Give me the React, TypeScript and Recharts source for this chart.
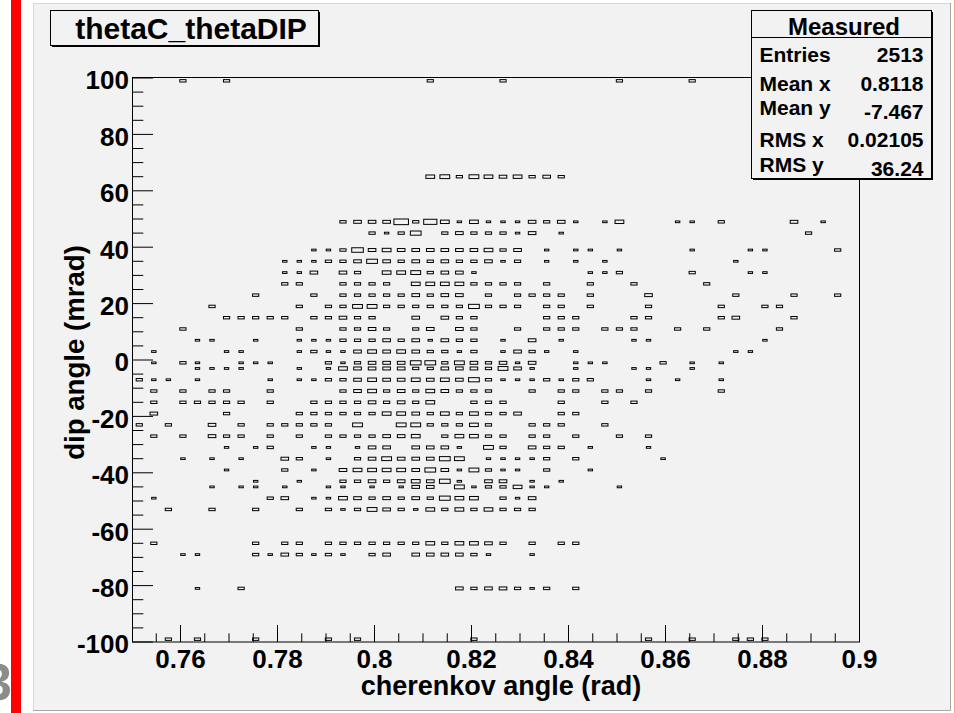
import React from 'react';
import { ScatterChart, Scatter, XAxis, YAxis } from 'recharts';

// ---- canvas geometry ----
const W = 955;
const H = 713;
const PLOT = { left: 132, top: 78, right: 859.5, bottom: 642 };
const FONT = "'Liberation Sans', Arial, Helvetica, sans-serif";

// ---- histogram binning ----
const X_MIN = 0.75;
const X_MAX = 0.9;
const X_BIN = 0.003;
const Y_MIN = -100;
const Y_MAX = 100;
const Y_BIN = 2;
const Z_MAX = 11;

// cherenkov angle bin centres (rad)
const thetaCBins = [
  0.7515, 0.7545, 0.7575, 0.7605, 0.7635, 0.7665, 0.7695, 0.7725, 0.7755, 0.7785,
  0.7815, 0.7845, 0.7875, 0.7905, 0.7935, 0.7965, 0.7995, 0.8025, 0.8055, 0.8085,
  0.8115, 0.8145, 0.8175, 0.8205, 0.8235, 0.8265, 0.8295, 0.8325, 0.8355, 0.8385,
  0.8415, 0.8445, 0.8475, 0.8505, 0.8535, 0.8565, 0.8595, 0.8625, 0.8655, 0.8685,
  0.8715, 0.8745, 0.8775, 0.8805, 0.8835, 0.8865, 0.8895, 0.8925, 0.8955, 0.8985,
];

// dip angle rows (mrad) that hold entries
const dipRows = [99, 65, 49, 45, 39, 35, 31, 27, 23, 19, 15, 11, 7, 3, -1, -3, -7, -11, -15, -19, -23, -27, -31, -35, -39, -43, -45, -49, -53, -65, -69, -81, -99];

// entries per cherenkov bin, one array per dip row
const dipP99 = [0,0,0,2,0,0,2,0,0,0, 0,0,0,0,0,0,0,0,0,0, 2,0,0,0,0,2,0,0,0,0, 0,0,0,2,0,0,0,0,2,0, 0,0,0,0,0,0,0,0,0,0];
const dipP65 = [0,0,0,0,0,0,0,0,0,0, 0,0,0,0,0,0,0,0,0,0, 4,5,2,5,4,3,4,2,3,2, 0,0,0,0,0,0,0,0,0,0, 0,0,0,0,0,0,0,0,0,0];
const dipP49 = [0,0,0,0,0,0,0,0,0,0, 0,0,0,0,2,3,3,3,11,2, 9,4,1,4,1,1,1,3,2,3, 1,0,1,4,0,0,0,1,1,0, 2,0,0,0,0,3,0,1,0,0];
const dipP45 = [0,0,0,0,0,0,0,0,0,0, 0,0,0,0,0,0,2,1,2,6, 0,2,3,2,2,2,1,3,0,1, 0,0,0,0,0,0,0,0,0,0, 0,0,0,0,0,0,2,0,0,0];
const dipP39 = [0,0,0,0,0,0,0,0,0,0, 0,0,1,1,2,7,3,4,3,3, 3,3,3,3,4,2,3,0,1,0, 1,1,0,1,0,0,0,0,1,0, 0,0,1,1,0,0,0,0,2,0];
const dipP35 = [0,0,0,0,0,0,0,0,0,0, 1,1,1,2,2,3,6,3,2,3, 2,3,2,2,3,1,2,0,1,0, 1,0,1,0,0,0,0,0,0,0, 0,1,0,0,0,0,0,0,0,0];
const dipP31 = [0,0,0,0,0,0,0,0,0,0, 1,1,3,0,3,2,0,4,4,5, 2,3,3,1,0,0,0,0,0,0, 0,1,1,2,0,0,0,0,2,0, 0,0,1,1,0,0,0,0,0,0];
const dipP27 = [0,0,0,0,0,0,0,0,0,0, 2,2,0,0,2,2,2,2,0,4, 4,4,4,2,2,2,2,0,2,0, 0,2,0,0,2,0,0,0,0,2, 0,0,0,0,0,0,0,0,0,0];
const dipP23 = [0,0,0,0,0,0,0,0,2,0, 0,0,2,0,2,2,2,2,2,3, 2,3,3,0,2,0,2,2,2,2, 0,2,0,0,0,3,0,0,0,0, 0,2,0,0,0,2,0,0,2,0];
const dipP19 = [0,0,0,0,0,2,0,0,0,0, 0,2,0,2,2,5,5,2,2,2, 2,2,2,6,2,2,2,0,2,2, 0,2,0,0,0,2,0,0,0,0, 2,0,0,2,2,0,0,0,0,0];
const dipP15 = [0,0,0,0,0,0,2,2,2,2, 2,0,2,2,3,2,2,0,0,3, 0,3,2,2,0,0,0,0,2,2, 2,0,0,0,2,2,0,0,0,0, 2,3,0,0,0,2,0,0,0,0];
const dipP11 = [0,0,0,2,0,0,0,0,0,0, 0,2,0,0,2,2,3,2,0,2, 3,0,3,2,0,0,2,0,2,2, 2,0,2,2,2,0,0,2,0,2, 0,0,0,0,2,0,0,0,0,0];
const dipP7  = [0,0,0,0,1,1,0,0,1,0, 0,1,1,1,2,2,2,3,2,3, 1,3,2,2,0,1,0,3,0,1, 0,0,0,0,1,1,0,0,0,0, 0,0,0,1,0,0,0,0,0,0];
const dipP3  = [0,1,0,0,0,0,1,1,0,0, 0,1,2,1,1,3,4,3,4,3, 2,2,1,2,0,1,3,2,1,0, 1,0,0,0,0,0,0,0,0,0, 0,1,1,0,0,0,0,0,0,0];
const dipM1  = [0,1,0,2,1,0,0,1,1,1, 0,0,0,2,1,2,3,3,3,6, 6,2,5,3,2,3,1,3,0,0, 1,1,1,0,0,0,2,0,1,0, 1,0,0,0,0,0,0,0,0,0];
const dipM3  = [0,0,0,0,1,1,1,1,0,0, 0,1,0,1,4,3,3,3,3,2, 2,3,3,3,2,5,3,1,0,0, 1,0,0,0,1,1,0,0,1,0, 0,0,0,0,0,0,0,0,0,0];
const dipM7  = [2,1,1,0,1,0,0,0,0,1, 0,1,1,2,2,3,4,3,3,4, 3,4,3,6,2,1,1,1,2,1, 2,2,0,0,0,1,0,1,0,0, 1,0,0,0,0,0,0,0,0,0];
const dipM11 = [0,2,0,2,0,2,2,0,0,2, 0,0,0,0,2,3,4,2,3,2, 4,3,2,2,2,0,0,2,0,2, 2,0,2,2,0,2,0,0,0,0, 2,0,0,0,0,0,0,0,0,0];
const dipM15 = [0,2,0,2,2,2,2,2,0,2, 0,0,2,2,2,2,3,2,3,2, 4,0,0,2,2,2,0,0,0,2, 0,0,2,0,2,0,0,0,0,0, 0,0,0,0,0,0,0,0,0,0];
const dipM19 = [0,3,0,0,0,0,2,0,0,0, 0,2,2,2,2,2,2,4,4,3, 2,4,2,4,2,2,3,0,0,2, 2,0,0,0,0,0,0,0,0,0, 0,0,0,0,0,0,0,0,0,0];
const dipM23 = [2,0,2,0,0,3,0,2,0,2, 2,2,2,2,0,5,0,0,5,5, 2,2,2,4,2,0,0,2,2,2, 0,0,2,0,0,0,0,0,0,0, 0,0,0,0,0,0,0,0,0,0];
const dipM27 = [0,2,0,2,0,3,2,2,0,2, 0,2,0,2,2,2,2,3,3,4, 0,2,4,4,2,2,0,2,2,0, 2,0,0,2,0,2,0,0,0,0, 0,0,0,0,0,0,0,0,0,0];
const dipM31 = [0,0,0,0,0,0,1,0,1,2, 0,0,1,1,0,1,3,3,0,3, 3,3,1,0,5,2,0,3,2,2, 0,1,0,0,0,1,0,0,0,0, 0,0,0,0,0,0,0,0,0,0];
const dipM35 = [0,0,0,1,0,1,0,1,0,0, 3,2,0,1,0,2,3,5,3,3, 3,6,5,0,1,1,1,1,2,0, 2,0,0,0,0,0,1,0,0,0, 0,0,0,0,0,0,0,0,0,0];
const dipM39 = [0,0,0,0,0,0,1,0,0,0, 2,0,1,0,3,4,4,4,4,3, 6,3,1,5,2,1,1,0,2,0, 0,1,0,0,0,0,0,0,0,0, 0,0,0,0,0,0,0,0,0,0];
const dipM43 = [0,0,0,0,0,0,0,0,1,0, 0,1,0,0,2,2,3,2,3,4, 3,6,1,0,3,3,0,1,0,1, 0,0,0,0,0,0,0,0,0,0, 0,0,0,0,0,0,0,0,0,0];
const dipM45 = [0,0,0,0,0,1,0,1,1,0, 1,0,0,1,1,0,1,0,1,3, 3,0,5,1,2,2,4,1,1,0, 0,0,0,1,0,0,0,0,0,0, 0,0,0,0,0,0,0,0,0,0];
const dipM49 = [0,1,0,0,0,0,0,0,0,2, 3,0,1,1,4,3,2,3,2,3, 2,6,4,4,0,2,1,3,0,0, 0,0,0,0,0,0,0,0,0,0, 0,0,0,0,0,0,0,0,0,0];
const dipM53 = [0,0,2,0,0,2,0,0,2,0, 0,2,0,2,1,2,5,3,2,1, 4,2,4,2,4,2,2,2,0,0, 0,0,0,0,0,0,0,0,0,0, 0,0,0,0,0,0,0,0,0,0];
const dipM65 = [0,2,0,0,0,0,0,0,2,0, 2,2,0,2,2,2,2,2,2,2, 4,2,4,4,3,2,0,2,0,2, 2,0,0,0,0,0,0,0,0,0, 0,0,0,0,0,0,0,0,0,0];
const dipM69 = [0,0,0,1,1,0,0,0,2,1, 3,2,1,2,1,0,2,3,0,3, 3,3,3,2,1,0,0,1,0,0, 0,0,0,0,0,0,0,0,0,0, 0,0,0,0,0,0,0,0,0,0];
const dipM81 = [0,0,0,0,1,0,0,2,0,0, 0,0,0,0,0,0,0,0,0,0, 0,0,3,2,3,3,2,1,2,0, 2,0,0,0,0,0,0,0,0,0, 0,0,0,0,0,0,0,0,0,0];
const dipM99 = [0,0,2,0,2,0,0,0,2,0, 0,0,0,2,0,2,0,0,0,0, 0,0,0,2,0,0,0,0,0,0, 0,0,0,0,0,2,0,0,2,0, 0,2,2,2,0,0,0,0,0,0];

const rowCounts = [
  dipP99, dipP65, dipP49, dipP45, dipP39, dipP35, dipP31, dipP27, dipP23, dipP19, dipP15,
  dipP11, dipP7, dipP3, dipM1, dipM3, dipM7, dipM11, dipM15, dipM19, dipM23, dipM27,
  dipM31, dipM35, dipM39, dipM43, dipM45, dipM49, dipM53, dipM65, dipM69, dipM81, dipM99,
];

// axis ticks
const xMajorTicks = [0.76, 0.78, 0.8, 0.82, 0.84, 0.86, 0.88, 0.9];
const xMinorTicks = [0.755, 0.765, 0.77, 0.775, 0.785, 0.79, 0.795, 0.805, 0.81, 0.815, 0.825, 0.83, 0.835, 0.845, 0.85, 0.855, 0.865, 0.87, 0.875, 0.885, 0.89, 0.895];
const yMajorTicks = [-100, -80, -60, -40, -20, 0, 20, 40, 60, 80, 100];
const yMinorTicks = [-95, -90, -85, -75, -70, -65, -55, -50, -45, -35, -30, -25, -15, -10, -5, 5, 10, 15, 25, 30, 35, 45, 50, 55, 65, 70, 75, 85, 90, 95];

// statistics panel
const statsTitle = 'Measured';
const statLabels = ['Entries', 'Mean x', 'Mean y', 'RMS x', 'RMS y'];
const statValues = ['2513', '0.8118', '-7.467', '0.02105', '36.24'];

const histTitle = 'thetaC_thetaDIP';
const xTitle = 'cherenkov angle (rad)';
const yTitle = 'dip angle (mrad)';

const points = dipRows.flatMap((dip, r) =>
  rowCounts[r]
    .map((c, i) => ({ x: thetaCBins[i], y: dip, z: c }))
    .filter((p) => p.z > 0)
);

const xTicks = [...xMajorTicks, ...xMinorTicks].sort((a, b) => a - b);
const yTicks = [...yMajorTicks, ...yMinorTicks].sort((a, b) => a - b);
const isMajor = (v: number, list: number[]) => list.some((m) => Math.abs(m - v) < 1e-9);

const BIN_W = ((PLOT.right - PLOT.left) * X_BIN) / (X_MAX - X_MIN);
const BIN_H = ((PLOT.bottom - PLOT.top) * Y_BIN) / (Y_MAX - Y_MIN);

// box area proportional to cell content
const renderBox = (p: any) => {
  const r = Math.sqrt(p.payload.z / Z_MAX);
  const w = BIN_W * r;
  const h = BIN_H * r;
  return (
    <rect x={p.cx - w / 2} y={p.cy - h / 2} width={w} height={h} fill="none" stroke="#000" strokeWidth={1} />
  );
};

const XTick = (props: any) => {
  const { x, y, payload } = props;
  const v = payload.value as number;
  const major = isMajor(v, xMajorTicks);
  return (
    <g>
      <line x1={x} x2={x} y1={y} y2={y - (major ? 17 : 8.7)} stroke="#000" strokeWidth={1} />
      {major && (
        <text x={x} y={y + 26} textAnchor="middle" fontSize={26} fontWeight="bold" fontFamily={FONT} fill="#000">
          {String(v)}
        </text>
      )}
    </g>
  );
};

const YTick = (props: any) => {
  const { x, y, payload } = props;
  const v = payload.value as number;
  const major = isMajor(v, yMajorTicks);
  return (
    <g>
      <line x1={x} x2={x + (major ? 21 : 11.3)} y1={y} y2={y} stroke="#000" strokeWidth={1} />
      {major && (
        <text x={x - 3} y={y + 11.3} textAnchor="end" fontSize={26} fontWeight="bold" fontFamily={FONT} fill="#000">
          {String(v)}
        </text>
      )}
    </g>
  );
};

const statLabelBase = [61.7, 90.7, 115, 147.3, 171.7];
const statValueBase = [61.7, 90.7, 119, 147.3, 175.7];

export default function App() {
  return (
    <div style={{ position: 'absolute', left: 0, top: 0, width: W, height: H, background: '#fff', overflow: 'hidden' }}>
      {/* canvas background */}
      <svg width={W} height={H} style={{ position: 'absolute', left: 0, top: 0 }}>
        <rect x={33} y={3} width={918} height={708} fill="#f2f2f2" />
        <line x1={33.5} y1={3} x2={33.5} y2={711} stroke="#d8d8d8" strokeWidth={1} />
        <line x1={33} y1={3.5} x2={951} y2={3.5} stroke="#d8d8d8" strokeWidth={1} />
        <line x1={950.5} y1={3} x2={950.5} y2={711} stroke="#a8a8a8" strokeWidth={1} />
        <line x1={33} y1={710.5} x2={951} y2={710.5} stroke="#a8a8a8" strokeWidth={1} />
        <rect x={954} y={0} width={1} height={H} fill="#f2a0a0" />
      </svg>

      <div style={{ position: 'absolute', left: 0, top: 0 }}>
        <ScatterChart
          width={W}
          height={H}
          margin={{ top: PLOT.top, right: W - PLOT.right, bottom: H - PLOT.bottom - 30, left: PLOT.left - 60 }}
        >
          <XAxis
            type="number"
            dataKey="x"
            domain={[X_MIN, X_MAX]}
            allowDataOverflow
            ticks={xTicks}
            interval={0}
            height={30}
            tickSize={0}
            tickMargin={0}
            tickLine={false}
            axisLine={false}
            tick={(p: any) => <XTick {...p} />}
          />
          <YAxis
            type="number"
            dataKey="y"
            domain={[Y_MIN, Y_MAX]}
            allowDataOverflow
            ticks={yTicks}
            interval={0}
            width={60}
            tickSize={0}
            tickMargin={0}
            tickLine={false}
            axisLine={false}
            tick={(p: any) => <YTick {...p} />}
          />
          <Scatter data={points} shape={renderBox} isAnimationActive={false} />
        </ScatterChart>
      </div>

      {/* frame, titles and panels */}
      <svg width={W} height={H} style={{ position: 'absolute', left: 0, top: 0, pointerEvents: 'none' }}>
        <rect
          x={PLOT.left + 0.5}
          y={PLOT.top - 0.5}
          width={PLOT.right - PLOT.left - 0.5}
          height={PLOT.bottom - PLOT.top + 0.5}
          fill="none"
          stroke="#000"
          strokeWidth={1}
        />

        {/* histogram title */}
        <rect x={52} y={12} width={268} height={35} fill="#000" />
        <rect x={50.5} y={10.5} width={268} height={35} fill="#f2f2f2" stroke="#000" strokeWidth={1} />
        <text x={191} y={39.3} textAnchor="middle" fontSize={30} fontWeight="bold" fontFamily={FONT} fill="#000">
          {histTitle}
        </text>

        {/* statistics */}
        <rect x={753} y={12} width={180} height={168} fill="#000" />
        <rect x={751.5} y={10.5} width={180} height={168} fill="#f2f2f2" stroke="#000" strokeWidth={1} />
        <line x1={751.5} y1={37.5} x2={931.5} y2={37.5} stroke="#000" strokeWidth={1} />
        <text x={844} y={35} textAnchor="middle" fontSize={24} fontWeight="bold" fontFamily={FONT} fill="#000">
          {statsTitle}
        </text>
        {statLabels.map((s, i) => (
          <text key={s} x={759.5} y={statLabelBase[i]} fontSize={21} fontWeight="bold" fontFamily={FONT} fill="#000">
            {s}
          </text>
        ))}
        {statValues.map((s, i) => (
          <text key={s} x={923.5} y={statValueBase[i]} textAnchor="end" fontSize={21} fontWeight="bold" fontFamily={FONT} fill="#000">
            {s}
          </text>
        ))}

        {/* axis titles */}
        <text x={501} y={695} textAnchor="middle" fontSize={27} fontWeight="bold" fontFamily={FONT} fill="#000">
          {xTitle}
        </text>
        <text
          transform="translate(84,352.5) rotate(-90)"
          textAnchor="middle"
          fontSize={27.6}
          fontWeight="bold"
          fontFamily={FONT}
          fill="#000"
        >
          {yTitle}
        </text>

        {/* left margin strip */}
        <text x={-17} y={700} fontSize={52} fontWeight="bold" fontFamily={FONT} fill="#8c8c8c">
          3
        </text>
        <rect x={10} y={0} width={11} height={H} fill="#fff" />
        <rect x={11} y={0} width={10} height={H} fill="#ff0000" />
        <rect x={21} y={0} width={12} height={H} fill="#fff" />
      </svg>
    </div>
  );
}
